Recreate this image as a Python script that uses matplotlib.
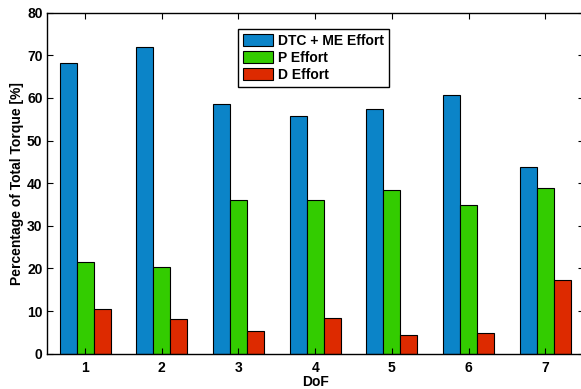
"""Grouped bar chart: share of total torque per DoF by controller term."""

import matplotlib

matplotlib.use("Agg")
import matplotlib.pyplot as plt  # noqa: E402
import numpy as np  # noqa: E402

plt.rcParams["font.family"] = ["Liberation Sans", "DejaVu Sans"]
plt.rcParams["font.weight"] = "bold"
plt.rcParams["font.size"] = 10

dof = [1, 2, 3, 4, 5, 6, 7]
dtc_me_effort = [68.3, 72.0, 58.6, 55.8, 57.5, 60.8, 43.8]
p_effort = [21.6, 20.3, 36.1, 36.1, 38.3, 34.8, 38.9]
d_effort = [10.6, 8.1, 5.3, 8.3, 4.4, 4.8, 17.4]

series = [
    ("DTC + ME Effort", dtc_me_effort, "#0b84c8"),
    ("P Effort", p_effort, "#33cc00"),
    ("D Effort", d_effort, "#dd2a00"),
]

fig = plt.figure(figsize=(5.81, 3.89), dpi=100)
# right spine sits just past the canvas edge
ax = fig.add_axes([46.7 / 581, 35.3 / 389, 537.0 / 581, 341.0 / 389])

x = np.array(dof, dtype=float)
width = 0.222
for i, (label, vals, color) in enumerate(series):
    ax.bar(x + (i - 1) * width, vals, width, color=color, edgecolor="black",
           linewidth=0.8, label=label)

ax.set_xlim(0.5, 7.5)
ax.set_ylim(0, 80)
ax.set_xticks(dof)
ax.set_yticks(range(0, 81, 10))
ax.tick_params(direction="in", length=4, width=0.8, top=True, right=True,
               labelsize=10)
ax.tick_params(axis="x", pad=5)
ax.tick_params(axis="y", pad=3)
for sp in ax.spines.values():
    sp.set_linewidth(1.0)

ax.set_xlabel("DoF", fontweight="bold", labelpad=0)
ax.set_ylabel("Percentage of Total Torque [%]", fontweight="bold", labelpad=2)

leg = ax.legend(loc="upper left", bbox_to_anchor=(238 / 581, 1 - 29 / 389),
                bbox_transform=fig.transFigure, borderaxespad=0,
                fancybox=False, edgecolor="black", framealpha=1,
                handlelength=2.2, handleheight=0.9, handletextpad=0.35,
                borderpad=0.35, labelspacing=0.22, prop={"weight": "bold", "size": 10})
leg.get_frame().set_linewidth(1.0)

fig.savefig("out.png", dpi=100)
